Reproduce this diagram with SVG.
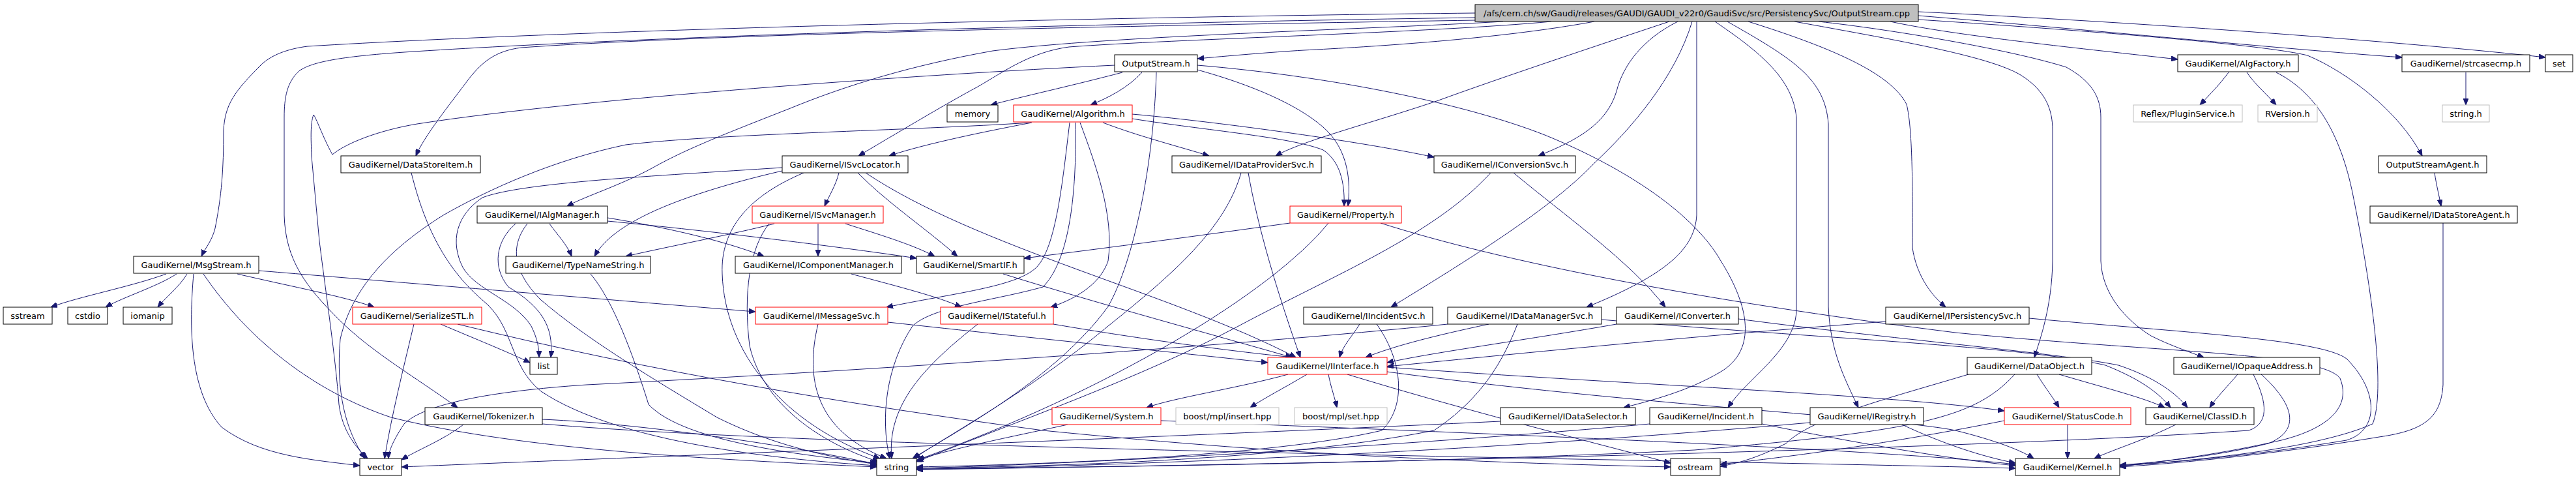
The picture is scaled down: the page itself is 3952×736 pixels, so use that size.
<svg xmlns="http://www.w3.org/2000/svg" width="3952" height="736" viewBox="0 0 3952 736">
<style>
.n rect{fill:#fff;stroke:#000;stroke-width:1}
.n.r rect{stroke:#f00}
.n.g rect{stroke:#bfbfbf}
.n.root rect{fill:#bfbfbf}
text{font-family:"DejaVu Sans","Liberation Sans",sans-serif;font-size:13px;text-anchor:middle;fill:#000}
#edges path{fill:none;stroke:#191970;stroke-width:1;marker-end:url(#a)}
</style>
<defs>
<marker id="a" markerWidth="10" markerHeight="8" refX="10" refY="4" orient="auto" markerUnits="userSpaceOnUse"><path d="M0,0 L10,4 L0,8 z" fill="#191970" stroke="#191970"/></marker>
</defs>
<rect x="0" y="0" width="3952" height="736" fill="#fff"/>
<g id="edges">
<path d="M2263,20 C1700,26 900,45 472,71 C440,75 415,85 400,100 C360,140 345,160 343,200 C343,260 340,300 330,350 C325,370 315,380 309,393"/>
<path d="M2263,27 C1700,35 1000,55 620,80 C520,87 480,95 460,108 C440,125 436,150 436,180 L436,330 C438,400 470,440 520,490 C570,540 640,580 702,625"/>
<path d="M2263,31 C1700,40 1100,52 800,73 C760,78 740,95 720,120 C690,160 650,210 638,239"/>
<path d="M2306,33 C2100,45 1700,55 1523,78 C1400,100 1300,130 1210,167 C1100,210 1050,230 1000,258 C950,285 900,300 870,316"/>
<path d="M2380,33 C2200,50 1800,60 1640,72 C1580,80 1540,110 1500,133 C1450,160 1400,190 1317,239"/>
<path d="M2446,33 C2300,60 2100,72 2000,77 C1950,80 1880,86 1837,90"/>
<path d="M2561,33 C2450,70 2300,120 2204,155 C2100,190 2000,215 1957,239"/>
<path d="M2574,33 C2520,60 2490,100 2480,140 C2465,190 2420,215 2360,239"/>
<path d="M2596,33 C2570,120 2500,200 2446,250 C2380,320 2250,400 2134,471"/>
<path d="M2603,33 L2603,330 C2600,380 2560,420 2434,471"/>
<path d="M2631,33 C2700,80 2750,120 2756,180 L2756,480 C2750,540 2680,580 2651,625"/>
<path d="M2650,33 C2750,90 2800,120 2805,190 L2805,470 C2808,540 2830,580 2851,625"/>
<path d="M2682,33 C2800,70 2900,110 2925,160 C2935,200 2934,300 2934,380 C2940,420 2960,450 2985,471"/>
<path d="M2753,33 C2900,60 3050,85 3100,115 C3140,140 3149,170 3149,200 L3149,400 C3148,470 3130,520 3121,548"/>
<path d="M2790,33 C2900,45 3080,75 3170,103 C3210,125 3223,150 3223,180 L3223,400 C3225,450 3260,490 3300,515 C3330,530 3360,540 3381,548"/>
<path d="M2900,33 C3000,55 3200,75 3341,91"/>
<path d="M2943,30 C3250,50 3480,70 3540,85 C3600,110 3680,170 3716,239"/>
<path d="M2943,24 C3200,45 3500,75 3685,88"/>
<path d="M2943,18 C3300,35 3700,65 3905,88"/>
<path d="M1722,111 C1650,130 1560,150 1520,161"/>
<path d="M1752,111 C1730,135 1700,150 1673,161"/>
<path d="M1774,111 C1770,250 1740,400 1700,470 C1620,580 1470,660 1400,703"/>
<path d="M1710,100 C1400,115 900,150 640,190 C580,200 530,220 510,237 C495,210 485,180 481,176 C476,190 477,210 478,240 L490,370 C500,450 515,550 520,620 C525,660 545,685 564,703"/>
<path d="M1837,100 C2050,118 2250,160 2370,207 C2500,260 2600,330 2640,400 C2690,480 2690,540 2640,570 C2590,600 2530,615 2491,625"/>
<path d="M1837,107 C1920,130 1990,160 2030,195 C2070,230 2072,280 2068,316"/>
<path d="M1582,188 C1400,200 1100,205 960,222 C850,245 750,290 680,330 C600,380 540,440 522,520 C515,600 530,660 560,703"/>
<path d="M1583,188 C1520,200 1420,220 1364,239"/>
<path d="M1692,188 C1750,210 1810,225 1855,239"/>
<path d="M1737,175 C1850,185 2080,215 2200,241"/>
<path d="M1737,182 C1850,200 1980,210 2030,230 C2060,250 2063,290 2062,316"/>
<path d="M1641,188 C1630,280 1620,380 1590,410 C1560,440 1460,450 1360,471"/>
<path d="M1657,188 C1680,250 1710,330 1700,400 C1690,430 1660,455 1612,471"/>
<path d="M1650,188 C1652,300 1640,400 1600,440 C1530,460 1430,470 1400,500 C1360,560 1350,640 1365,703"/>
<path d="M1979,342 C1850,360 1700,380 1571,396"/>
<path d="M1200,257 C1000,270 800,280 740,303 C700,330 690,370 710,410 C730,445 790,460 815,500 C825,520 827,535 827,548"/>
<path d="M1287,265 C1282,285 1272,300 1265,316"/>
<path d="M1316,265 C1360,310 1420,350 1469,393"/>
<path d="M1328,265 C1500,380 1800,450 1988,548"/>
<path d="M1233,265 C1150,300 1105,350 1108,420 C1112,540 1200,650 1350,703"/>
<path d="M1200,262 C1100,285 1030,310 990,330 C950,350 925,370 912,393"/>
<path d="M1188,343 C1120,360 1040,375 960,393"/>
<path d="M1255,343 L1255,393"/>
<path d="M1297,343 C1350,360 1400,375 1434,393"/>
<path d="M1180,343 C1150,380 1140,450 1150,530 C1170,620 1260,680 1348,708"/>
<path d="M843,343 C855,360 870,375 877,393"/>
<path d="M932,339 C1100,355 1300,380 1406,396"/>
<path d="M932,334 C1000,345 1100,365 1172,393"/>
<path d="M791,343 C760,370 755,410 780,440 C830,470 850,500 845,548"/>
<path d="M809,343 C780,380 790,420 830,460 C900,520 1000,580 1100,640 C1200,690 1300,705 1345,712"/>
<path d="M631,265 C645,320 670,400 740,460 C790,500 780,560 830,600 C950,680 1200,705 1345,714"/>
<path d="M255,420 C200,440 120,455 78,471"/>
<path d="M271,420 C240,440 190,455 162,471"/>
<path d="M287,420 C275,440 255,455 242,471"/>
<path d="M364,420 C450,440 530,455 574,471"/>
<path d="M397,415 C700,440 1000,465 1159,478"/>
<path d="M297,420 C290,500 290,600 340,655 C400,700 480,705 552,714"/>
<path d="M312,420 C380,520 480,600 600,640 C800,690 1100,705 1345,716"/>
<path d="M676,497 C730,520 780,540 813,556"/>
<path d="M635,497 C620,560 600,640 590,703"/>
<path d="M702,497 C1000,570 1300,620 1600,660 C2000,700 2300,710 2563,716"/>
<path d="M906,420 C940,460 970,540 995,620 C1050,680 1250,700 1345,710"/>
<path d="M1306,420 C1380,440 1440,455 1475,471"/>
<path d="M1539,420 C1700,470 1850,510 1982,548"/>
<path d="M1255,497 C1235,580 1250,660 1360,703"/>
<path d="M1362,494 C1600,520 1800,540 1945,556"/>
<path d="M1500,497 C1420,560 1360,620 1368,703"/>
<path d="M1616,497 C1750,520 1900,540 1985,548"/>
<path d="M1904,265 C1880,350 1800,420 1700,500 C1580,600 1450,670 1402,703"/>
<path d="M1915,265 C1930,350 1960,450 1995,548"/>
<path d="M2322,265 C2400,330 2500,400 2555,471"/>
<path d="M2287,265 C2200,360 2050,420 1900,500 C1750,580 1550,650 1406,708"/>
<path d="M2086,497 C2075,515 2060,530 2055,548"/>
<path d="M2112,497 C2150,550 2160,620 2120,660 C1950,700 1600,712 1406,716"/>
<path d="M2284,497 C2200,515 2140,530 2095,548"/>
<path d="M2328,497 C2300,570 2260,620 2200,660 C2000,700 1700,714 1406,718"/>
<path d="M2221,497 C1900,530 1300,570 900,590 C750,600 650,620 620,650 C600,680 596,695 596,703"/>
<path d="M2480,497 C2350,520 2200,540 2128,556"/>
<path d="M2667,489 C2900,520 3150,540 3250,560 C3310,580 3340,605 3356,625"/>
<path d="M2457,490 C2800,520 3100,530 3230,560 C3280,580 3310,600 3330,625"/>
<path d="M2893,493 C2600,515 2300,545 2128,562"/>
<path d="M3113,488 C3350,510 3560,520 3600,550 C3650,600 3650,660 3600,675 C3450,700 3320,710 3252,714"/>
<path d="M3125,574 C3138,595 3150,610 3159,625"/>
<path d="M3159,574 C3230,595 3290,610 3321,625"/>
<path d="M3091,574 C3030,640 2950,660 2600,690 C2200,710 1700,716 1406,719"/>
<path d="M3020,574 C2900,610 2780,640 2740,680 C2700,700 2670,710 2639,715"/>
<path d="M3433,574 C3415,595 3400,610 3390,625"/>
<path d="M3469,574 C3520,620 3530,660 3480,680 C3400,700 3300,710 3252,713"/>
<path d="M3457,574 C3480,620 3480,650 3450,660 C3000,690 2000,712 1406,720"/>
<path d="M3172,651 L3172,703"/>
<path d="M3075,645 C2900,680 2750,700 2639,712"/>
<path d="M3338,651 C3290,675 3240,690 3213,703"/>
<path d="M2128,563 C2500,590 2900,605 3075,630"/>
<path d="M2128,570 C2500,620 2900,640 3000,660 C3060,675 3100,690 3120,703"/>
<path d="M2067,574 C2250,630 2450,680 2563,710"/>
<path d="M1976,574 C1900,595 1800,610 1759,625"/>
<path d="M2005,574 C1970,595 1940,610 1918,625"/>
<path d="M2038,574 C2042,595 2048,610 2051,625"/>
<path d="M1638,651 C1550,670 1450,690 1406,706"/>
<path d="M1781,645 C2300,665 2900,690 3092,712"/>
<path d="M711,651 C680,675 640,690 616,705"/>
<path d="M832,643 C1000,650 1250,690 1345,712"/>
<path d="M832,650 C1300,690 2600,705 3092,718"/>
<path d="M2302,646 C1800,670 1000,700 616,716"/>
<path d="M2531,650 C2200,680 1700,710 1406,718"/>
<path d="M2703,650 C2850,680 3000,705 3092,714"/>
<path d="M2918,651 C2980,680 3040,700 3092,710"/>
<path d="M2777,648 C2300,690 1800,712 1406,720"/>
<path d="M3492,111 C3550,140 3590,200 3610,300 C3640,450 3660,600 3640,650 C3550,690 3350,708 3252,714"/>
<path d="M3748,342 L3748,590 C3745,640 3720,660 3650,670 C3500,695 3350,710 3252,716"/>
<path d="M3419,111 C3405,130 3390,145 3375,161"/>
<path d="M3447,111 C3460,130 3478,145 3492,161"/>
<path d="M3783,111 L3783,161"/>
<path d="M3735,265 C3738,285 3742,300 3745,316"/>
<path d="M2038,342 C1950,450 1700,600 1408,705"/>
<path d="M2118,342 C2300,400 2600,460 3000,510 C3300,540 3560,540 3590,580 C3610,630 3560,660 3500,675 C3400,698 3300,710 3252,715"/>
</g>
<g id="n_cpp" class="n root"><rect x="2263" y="7" width="680" height="26"/><text x="2603" y="25" textLength="654" lengthAdjust="spacingAndGlyphs">/afs/cern.ch/sw/Gaudi/releases/GAUDI/GAUDI_v22r0/GaudiSvc/src/PersistencySvc/OutputStream.cpp</text></g>
<g id="n_OutputStream_h" class="n"><rect x="1710" y="84" width="127" height="26"/><text x="1773.5" y="102">OutputStream.h</text></g>
<g id="n_AlgFactory" class="n"><rect x="3341" y="84" width="185" height="26"/><text x="3433.5" y="102">GaudiKernel/AlgFactory.h</text></g>
<g id="n_strcasecmp" class="n"><rect x="3685" y="84" width="196" height="26"/><text x="3783" y="102">GaudiKernel/strcasecmp.h</text></g>
<g id="n_set" class="n"><rect x="3905" y="84" width="42" height="26"/><text x="3926" y="102">set</text></g>
<g id="n_memory" class="n"><rect x="1453" y="161" width="78" height="26"/><text x="1492" y="179">memory</text></g>
<g id="n_Algorithm" class="n r"><rect x="1555" y="161" width="182" height="26"/><text x="1646" y="179">GaudiKernel/Algorithm.h</text></g>
<g id="n_PluginService" class="n g"><rect x="3273" y="161" width="167" height="26"/><text x="3356.5" y="179">Reflex/PluginService.h</text></g>
<g id="n_RVersion" class="n g"><rect x="3464" y="161" width="91" height="26"/><text x="3509.5" y="179">RVersion.h</text></g>
<g id="n_string_h" class="n g"><rect x="3747" y="161" width="72" height="26"/><text x="3783" y="179">string.h</text></g>
<g id="n_DataStoreItem" class="n"><rect x="523" y="239" width="214" height="26"/><text x="630" y="257">GaudiKernel/DataStoreItem.h</text></g>
<g id="n_ISvcLocator" class="n"><rect x="1200" y="239" width="193" height="26"/><text x="1296.5" y="257">GaudiKernel/ISvcLocator.h</text></g>
<g id="n_IDataProviderSvc" class="n"><rect x="1798" y="239" width="229" height="26"/><text x="1912.5" y="257">GaudiKernel/IDataProviderSvc.h</text></g>
<g id="n_IConversionSvc" class="n"><rect x="2200" y="239" width="217" height="26"/><text x="2308.5" y="257">GaudiKernel/IConversionSvc.h</text></g>
<g id="n_OutputStreamAgent" class="n"><rect x="3649" y="239" width="166" height="26"/><text x="3732" y="257">OutputStreamAgent.h</text></g>
<g id="n_IAlgManager" class="n"><rect x="732" y="316" width="200" height="26"/><text x="832" y="334">GaudiKernel/IAlgManager.h</text></g>
<g id="n_ISvcManager" class="n r"><rect x="1154" y="316" width="201" height="26"/><text x="1254.5" y="334">GaudiKernel/ISvcManager.h</text></g>
<g id="n_Property" class="n r"><rect x="1979" y="316" width="171" height="26"/><text x="2064.5" y="334">GaudiKernel/Property.h</text></g>
<g id="n_IDataStoreAgent" class="n"><rect x="3636" y="316" width="226" height="26"/><text x="3749" y="334">GaudiKernel/IDataStoreAgent.h</text></g>
<g id="n_MsgStream" class="n"><rect x="205" y="393" width="192" height="26"/><text x="301" y="411">GaudiKernel/MsgStream.h</text></g>
<g id="n_TypeNameString" class="n"><rect x="776" y="393" width="222" height="26"/><text x="887" y="411">GaudiKernel/TypeNameString.h</text></g>
<g id="n_IComponentManager" class="n"><rect x="1128" y="393" width="255" height="26"/><text x="1255.5" y="411">GaudiKernel/IComponentManager.h</text></g>
<g id="n_SmartIF" class="n"><rect x="1406" y="393" width="165" height="26"/><text x="1488.5" y="411">GaudiKernel/SmartIF.h</text></g>
<g id="n_sstream" class="n"><rect x="5" y="471" width="75" height="26"/><text x="42.5" y="489">sstream</text></g>
<g id="n_cstdio" class="n"><rect x="104" y="471" width="61" height="26"/><text x="134.5" y="489">cstdio</text></g>
<g id="n_iomanip" class="n"><rect x="189" y="471" width="75" height="26"/><text x="226.5" y="489">iomanip</text></g>
<g id="n_SerializeSTL" class="n r"><rect x="541" y="471" width="198" height="26"/><text x="640" y="489">GaudiKernel/SerializeSTL.h</text></g>
<g id="n_IMessageSvc" class="n r"><rect x="1159" y="471" width="203" height="26"/><text x="1260.5" y="489">GaudiKernel/IMessageSvc.h</text></g>
<g id="n_IStateful" class="n r"><rect x="1443" y="471" width="173" height="26"/><text x="1529.5" y="489">GaudiKernel/IStateful.h</text></g>
<g id="n_IIncidentSvc" class="n"><rect x="2000" y="471" width="198" height="26"/><text x="2099" y="489">GaudiKernel/IIncidentSvc.h</text></g>
<g id="n_IDataManagerSvc" class="n"><rect x="2221" y="471" width="236" height="26"/><text x="2339" y="489">GaudiKernel/IDataManagerSvc.h</text></g>
<g id="n_IConverter" class="n"><rect x="2480" y="471" width="187" height="26"/><text x="2573.5" y="489">GaudiKernel/IConverter.h</text></g>
<g id="n_IPersistencySvc" class="n"><rect x="2893" y="471" width="220" height="26"/><text x="3003" y="489">GaudiKernel/IPersistencySvc.h</text></g>
<g id="n_list" class="n"><rect x="813" y="548" width="42" height="26"/><text x="834" y="566">list</text></g>
<g id="n_IInterface" class="n r"><rect x="1945" y="548" width="183" height="26"/><text x="2036.5" y="566">GaudiKernel/IInterface.h</text></g>
<g id="n_DataObject" class="n"><rect x="3018" y="548" width="191" height="26"/><text x="3113.5" y="566">GaudiKernel/DataObject.h</text></g>
<g id="n_IOpaqueAddress" class="n"><rect x="3335" y="548" width="224" height="26"/><text x="3447" y="566">GaudiKernel/IOpaqueAddress.h</text></g>
<g id="n_Tokenizer" class="n"><rect x="652" y="625" width="180" height="26"/><text x="742" y="643">GaudiKernel/Tokenizer.h</text></g>
<g id="n_System" class="n r"><rect x="1614" y="625" width="167" height="26"/><text x="1697.5" y="643">GaudiKernel/System.h</text></g>
<g id="n_mpl_insert" class="n g"><rect x="1804" y="625" width="158" height="26"/><text x="1883" y="643">boost/mpl/insert.hpp</text></g>
<g id="n_mpl_set" class="n g"><rect x="1986" y="625" width="142" height="26"/><text x="2057" y="643">boost/mpl/set.hpp</text></g>
<g id="n_IDataSelector" class="n"><rect x="2302" y="625" width="207" height="26"/><text x="2405.5" y="643">GaudiKernel/IDataSelector.h</text></g>
<g id="n_Incident" class="n"><rect x="2531" y="625" width="172" height="26"/><text x="2617" y="643">GaudiKernel/Incident.h</text></g>
<g id="n_IRegistry" class="n"><rect x="2777" y="625" width="174" height="26"/><text x="2864" y="643">GaudiKernel/IRegistry.h</text></g>
<g id="n_StatusCode" class="n r"><rect x="3075" y="625" width="194" height="26"/><text x="3172" y="643">GaudiKernel/StatusCode.h</text></g>
<g id="n_ClassID" class="n"><rect x="3292" y="625" width="166" height="26"/><text x="3375" y="643">GaudiKernel/ClassID.h</text></g>
<g id="n_vector" class="n"><rect x="552" y="703" width="64" height="26"/><text x="584" y="721">vector</text></g>
<g id="n_string" class="n"><rect x="1345" y="703" width="61" height="26"/><text x="1375.5" y="721">string</text></g>
<g id="n_ostream" class="n"><rect x="2563" y="703" width="76" height="26"/><text x="2601" y="721">ostream</text></g>
<g id="n_Kernel" class="n"><rect x="3092" y="703" width="160" height="26"/><text x="3172" y="721">GaudiKernel/Kernel.h</text></g>
</svg>
